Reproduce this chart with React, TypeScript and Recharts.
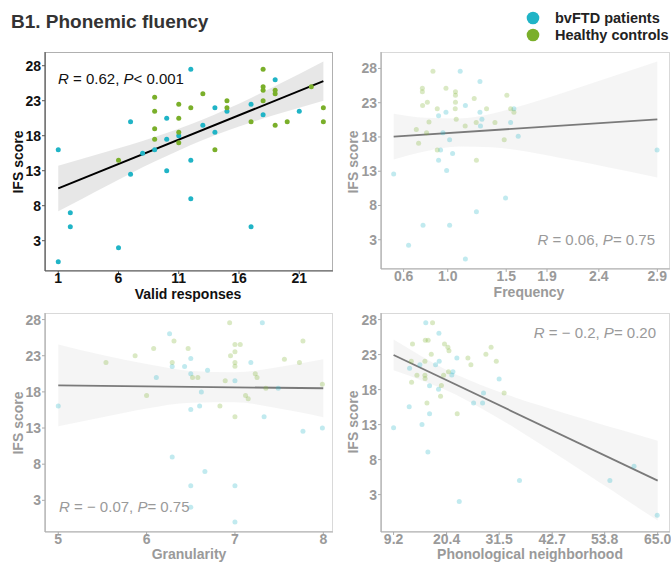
import React from "react";
import { ComposedChart, Scatter, Line, Area, XAxis, YAxis } from "recharts";

const BV_COLOR = "#20b4c6";
const HC_COLOR = "#7aaf2a";
const FONT = "'Liberation Sans', Arial, sans-serif";

type Pt = [number, number];

// B1 - valid responses
const validBv: Pt[] = [
  [1, 16], [1, 0], [2, 7], [2, 5], [6, 2], [7, 20], [7, 12.5], [8, 15.5], [9, 16],
  [10, 20.5], [10, 17.5], [10, 13], [11, 18], [12, 27.5], [12, 14.5], [12, 9],
  [13, 19.5], [14, 22], [14, 18.5], [15, 21.5], [17, 22.5], [17, 5], [18, 21],
  [19, 26], [21, 21.5],
];
const validHc: Pt[] = [
  [6, 14.5], [9, 23.5], [9, 21.5], [9, 19], [9, 17.5], [11, 22.5], [11, 20.5],
  [11, 18.5], [11, 17], [12, 22], [13, 24], [14, 16], [15, 23], [15, 22], [17, 20],
  [18, 27.5], [18, 25], [18, 24.5], [18, 23], [19, 24.5], [19, 24], [19, 19.5],
  [20, 20], [22, 25], [23, 22], [23, 20],
];
const validBandX = [1, 3, 5, 7, 9, 11, 13, 15, 17, 19, 21, 23];
const validBandLo = [7.2, 9.0, 10.8, 12.6, 14.3, 15.9, 17.4, 18.7, 19.9, 21.0, 22.0, 23.0];
const validBandHi = [13.7, 14.7, 15.7, 16.7, 17.8, 19.0, 20.3, 21.8, 23.4, 25.1, 26.8, 28.6];
const validFit = [10.48, 25.79];
const validTicks = [1, 6, 11, 16, 21];

// frequency
const freqBv: Pt[] = [
  [0.51, 12.6], [0.645, 2.2], [0.776, 5.1], [0.917, 21.1], [0.917, 14.6], [0.935, 16.1],
  [0.957, 18.6], [0.984, 21.6], [0.99, 13.1], [1.017, 5.1], [1.017, 17.6], [1.044, 15.6],
  [1.113, 27.6], [1.16, 22.6], [1.16, 0.2], [1.26, 7.1], [1.292, 26.1], [1.292, 21.6],
  [1.297, 19.6], [1.31, 20.6], [1.524, 9.1], [1.57, 20.1], [1.6, 22.1], [1.639, 18.1],
  [2.898, 16.1],
];
const freqHc: Pt[] = [
  [0.715, 19.1], [0.736, 17.1], [0.77, 25.1], [0.77, 24.6], [0.772, 22.6], [0.815, 23.05],
  [0.808, 18.6], [0.83, 20.2], [0.866, 27.6], [0.905, 22.1], [0.905, 16.1], [0.984, 25.1],
  [1.068, 22.1], [1.07, 24.6], [1.07, 24.1], [1.07, 23.05], [1.077, 20.6], [1.158, 19.6],
  [1.24, 23.6], [1.258, 20.1], [1.26, 14.6], [1.352, 22.1], [1.428, 20.1], [1.512, 17.6],
  [1.536, 24.1], [1.57, 22.1], [1.6, 21.6],
];
const freqBandX = [0.51, 0.8, 1.1, 1.4, 1.7, 2.0, 2.3, 2.6, 2.9];
const freqBandLo = [14.7, 15.9, 16.6, 16.5, 15.9, 15.0, 14.1, 13.1, 12.1];
const freqBandHi = [21.4, 20.8, 20.7, 21.4, 22.7, 24.2, 25.8, 27.4, 29.0];
const freqFit = [18.05, 20.57];
const freqTicks = [0.6, 1.0, 1.53, 1.9, 2.37, 2.9];

// granularity
const granBv: Pt[] = [
  [5, 16.05], [6.11, 20], [6.26, 26.05], [6.29, 21.5], [6.29, 9], [6.43, 21.5], [6.5, 22.6],
  [6.5, 20.5], [6.5, 15.55], [6.5, 5], [6.5, 2.05], [6.62, 18], [6.6, 16.05], [6.66, 7],
  [6.69, 21], [7, 19.55], [7, 5], [7, 0], [7.18, 22.05], [7.31, 27.55], [7.33, 14.55],
  [7.49, 18.5], [7.77, 12.55], [7.99, 13],
];
const granHc: Pt[] = [
  [5.54, 22.05], [5.87, 23], [6, 17.5], [6.08, 24], [6.29, 22.05], [6.31, 25.05], [6.47, 24],
  [6.52, 20], [6.58, 20], [6.83, 16.05], [6.89, 19.55], [6.94, 27.55], [6.95, 23], [7, 24.55],
  [7, 23.55], [7, 22.05], [7, 21.55], [7, 14.55], [7.06, 24.55], [7.12, 17.5], [7.15, 17.05],
  [7.23, 20.5], [7.25, 20], [7.35, 18.5], [7.56, 22.5], [7.73, 22.05], [7.77, 25.05], [7.99, 19.05],
];
const granBandX = [5, 5.5, 6, 6.5, 7, 7.5, 8];
const granBandLo = [13.25, 14.5, 15.7, 16.5, 16.55, 15.7, 14.5];
const granBandHi = [24.55, 23.1, 21.85, 20.9, 20.7, 21.45, 22.5];
const granFit = [18.9, 18.5];
const granTicks = [5, 6, 7, 8];

// phonological neighborhood
const phonBv: Pt[] = [
  [9.2, 12.55], [12.5, 15.55], [12.58, 21.05], [14.76, 21.55], [15.2, 13], [16, 27.55],
  [16.45, 9.1], [16.8, 14.55], [16.8, 18.55], [18.07, 21.55], [18.7, 18.05], [18.78, 26.05],
  [18.84, 22.05], [21.5, 20.1], [21.74, 20.55], [22.57, 22.5], [23.07, 2], [26.1, 16.1],
  [28, 16.1], [28.2, 17.5], [31.5, 19.5], [35.8, 5], [54.9, 5], [60, 7.05], [64.9, 0.05],
];
const phonHc: Pt[] = [
  [12.94, 22.05], [13, 19.05], [13.2, 24.5], [14.13, 20.05], [15.82, 22.05], [15.82, 20.05],
  [15.85, 19.6], [15.9, 25.05], [16.25, 16.1], [16.5, 25.05], [17.16, 23.05], [17.43, 27.55],
  [19.12, 17.05], [19.3, 18.6], [19.76, 20.05], [19.96, 24.5], [20.67, 24.05], [20.9, 23.55],
  [20.8, 20.55], [22.64, 14.55], [24.9, 22.5], [25.53, 21.55], [28.7, 23.05], [29.8, 24.05],
  [30.9, 22.05], [32.56, 17.5],
];
const phonBandX = [9.2, 15, 20, 25, 30, 35, 40, 45, 50, 55, 60, 65];
const phonBandLo = [20.75, 19.35, 18.0, 16.35, 14.45, 12.45, 10.3, 8.15, 5.95, 3.75, 1.5, -0.7];
const phonBandHi = [25.15, 22.8, 20.95, 19.4, 18.05, 16.85, 15.75, 14.7, 13.7, 12.65, 11.7, 10.7];
const phonFit = [22.95, 5.0];
const phonTicks = [9.2, 20.4, 31.5, 42.7, 53.8, 65.0];

const ifsTicks = [3, 8, 13, 18, 23, 28];

const toRows = (pts: Pt[]) => pts.map(([x, y]) => ({ x, y }));
const bandRows = (xs: number[], lo: number[], hi: number[], fit: number[]) =>
  xs.map((x, i) => ({
    x,
    band: [lo[i], hi[i]],
    fit: i === 0 ? fit[0] : i === xs.length - 1 ? fit[1] : undefined,
  }));

type PanelProps = {
  plot: { l: number; t: number; r: number; b: number };
  xDomain: [number, number];
  yDomain: [number, number];
  xTicks: number[];
  xFmt?: (v: number) => string;
  bv: Pt[];
  hc: Pt[];
  rows: ReturnType<typeof bandRows>;
  faded?: boolean;
};

const Panel = ({ plot, xDomain, yDomain, xTicks, xFmt, bv, hc, rows, faded }: PanelProps) => {
  const yW = 45;
  const mTop = 4;
  const xH = 26;
  const left = plot.l - yW;
  const top = plot.t - mTop;
  const width = plot.r - plot.l + yW + 1;
  const height = plot.b - plot.t + mTop + xH;
  const textColor = faded ? "#9a9a9a" : "#111";
  const axisColor = faded ? "#ababab" : "#555";
  const borderColor = faded ? "#d9d9d9" : "#b0b0b0";
  const pointOpacity = faded ? 0.28 : 1;
  const tickStyle = { fontSize: 14, fontWeight: "bold", fill: textColor, fontFamily: FONT };
  const dot = (color: string) => (p: any) => (
    <circle cx={p.cx} cy={p.cy} r={2.5} fill={color} fillOpacity={pointOpacity} />
  );
  return (
    <div style={{ position: "absolute", left, top, width, height }}>
      <div
        style={{
          position: "absolute",
          left: yW,
          top: mTop,
          width: plot.r - plot.l,
          height: plot.b - plot.t,
          border: `1px solid ${borderColor}`,
          boxSizing: "border-box",
        }}
      />
      <ComposedChart
        width={width}
        height={height}
        data={rows}
        margin={{ top: mTop, right: 1, bottom: 0, left: 0 }}
        style={{ position: "absolute", left: 0, top: 0 }}
      >
        <XAxis
          type="number"
          dataKey="x"
          domain={xDomain}
          allowDataOverflow
          ticks={xTicks}
          interval={0}
          tickFormatter={xFmt}
          height={xH}
          tickSize={3}
          tickMargin={-1}
          tick={tickStyle}
          axisLine={{ stroke: axisColor, strokeWidth: 1.2 }}
          tickLine={{ stroke: axisColor }}
        />
        <YAxis
          type="number"
          domain={yDomain}
          allowDataOverflow
          ticks={ifsTicks}
          interval={0}
          width={yW}
          tickSize={3}
          tickMargin={1}
          tick={tickStyle}
          axisLine={{ stroke: axisColor, strokeWidth: 1.2 }}
          tickLine={{ stroke: axisColor }}
        />
        <Scatter data={toRows(bv)} dataKey="y" shape={dot(BV_COLOR)} isAnimationActive={false} />
        <Scatter data={toRows(hc)} dataKey="y" shape={dot(HC_COLOR)} isAnimationActive={false} />
        <Area
          dataKey="band"
          type="monotone"
          stroke="none"
          fill={faded ? "#e6e6e6" : "#cfcfcf"}
          fillOpacity={faded ? 0.4 : 0.5}
          isAnimationActive={false}
          activeDot={false}
        />
        <Line
          dataKey="fit"
          type="linear"
          stroke={faded ? "#7a7a7a" : "#000"}
          strokeWidth={faded ? 1.8 : 2}
          dot={false}
          activeDot={false}
          connectNulls
          isAnimationActive={false}
        />
      </ComposedChart>
    </div>
  );
};

const Stat = ({ x, y, r, p, op, anchor, color }: any) => (
  <text x={x} y={y} textAnchor={anchor} fontSize={15} fill={color} fontFamily={FONT}>
    <tspan fontStyle="italic">R</tspan>
    {` = ${r}, `}
    <tspan fontStyle="italic">P</tspan>
    {`${op} ${p}`}
  </text>
);

export default function App() {
  const gray = "#9a9a9a";
  return (
    <div style={{ position: "absolute", left: 0, top: 0, width: 671, height: 562, background: "#fff", fontFamily: FONT }}>
      <Panel
        plot={{ l: 45, t: 52, r: 333, b: 271 }}
        xDomain={[-0.1, 23.8]}
        yDomain={[-1.33, 29.96]}
        xTicks={validTicks}
        bv={validBv}
        hc={validHc}
        rows={bandRows(validBandX, validBandLo, validBandHi, validFit)}
      />
      <Panel
        plot={{ l: 381, t: 52, r: 670, b: 269 }}
        xDomain={[0.395, 3.015]}
        yDomain={[-1.27, 30.4]}
        xTicks={freqTicks}
        xFmt={(v) => v.toFixed(1)}
        bv={freqBv}
        hc={freqHc}
        rows={bandRows(freqBandX, freqBandLo, freqBandHi, freqFit)}
        faded
      />
      <Panel
        plot={{ l: 45, t: 313, r: 333, b: 532 }}
        xDomain={[4.85, 8.11]}
        yDomain={[-1.38, 28.91]}
        xTicks={granTicks}
        bv={granBv}
        hc={granHc}
        rows={bandRows(granBandX, granBandLo, granBandHi, granFit)}
        faded
      />
      <Panel
        plot={{ l: 381, t: 313, r: 670, b: 532 }}
        xDomain={[6.54, 67.6]}
        yDomain={[-2.34, 28.94]}
        xTicks={phonTicks}
        xFmt={(v) => v.toFixed(1)}
        bv={phonBv}
        hc={phonHc}
        rows={bandRows(phonBandX, phonBandLo, phonBandHi, phonFit)}
        faded
      />
      <svg width={671} height={562} style={{ position: "absolute", left: 0, top: 0, pointerEvents: "none" }}>
        <text x={11} y={28} fontSize={19} fontWeight="bold" fill="#333" fontFamily={FONT}>
          B1. Phonemic fluency
        </text>
        <circle cx={533} cy={18} r={6.3} fill={BV_COLOR} />
        <circle cx={533} cy={35} r={6.3} fill={HC_COLOR} />
        <text x={555} y={23} fontSize={14.5} fontWeight="bold" fill="#222" fontFamily={FONT}>
          bvFTD patients
        </text>
        <text x={555} y={40} fontSize={14.5} fontWeight="bold" fill="#222" fontFamily={FONT}>
          Healthy controls
        </text>

        <g fontSize={14} fontWeight="bold" fontFamily={FONT} textAnchor="middle">
          <text x={188} y={299} fill="#111">Valid responses</text>
          <text x={529} y={297} fill={gray}>Frequency</text>
          <text x={189} y={559} fill={gray}>Granularity</text>
          <text x={530} y={559} fill={gray}>Phonological neighborhood</text>
          <text transform="translate(23,162) rotate(-90)" fill="#111">IFS score</text>
          <text transform="translate(357.5,162) rotate(-90)" fill={gray}>IFS score</text>
          <text transform="translate(23,423) rotate(-90)" fill={gray}>IFS score</text>
          <text transform="translate(357.5,422) rotate(-90)" fill={gray}>IFS score</text>
        </g>

        <Stat x={58} y={84} r="0.62" op="<" p="0.001" anchor="start" color="#111" />
        <Stat x={655} y={245} r="0.06" op="=" p="0.75" anchor="end" color={gray} />
        <Stat x={59} y={512} r="− 0.07" op="=" p="0.75" anchor="start" color={gray} />
        <Stat x={656} y={338} r="− 0.2" op="=" p="0.20" anchor="end" color={gray} />
      </svg>
    </div>
  );
}
